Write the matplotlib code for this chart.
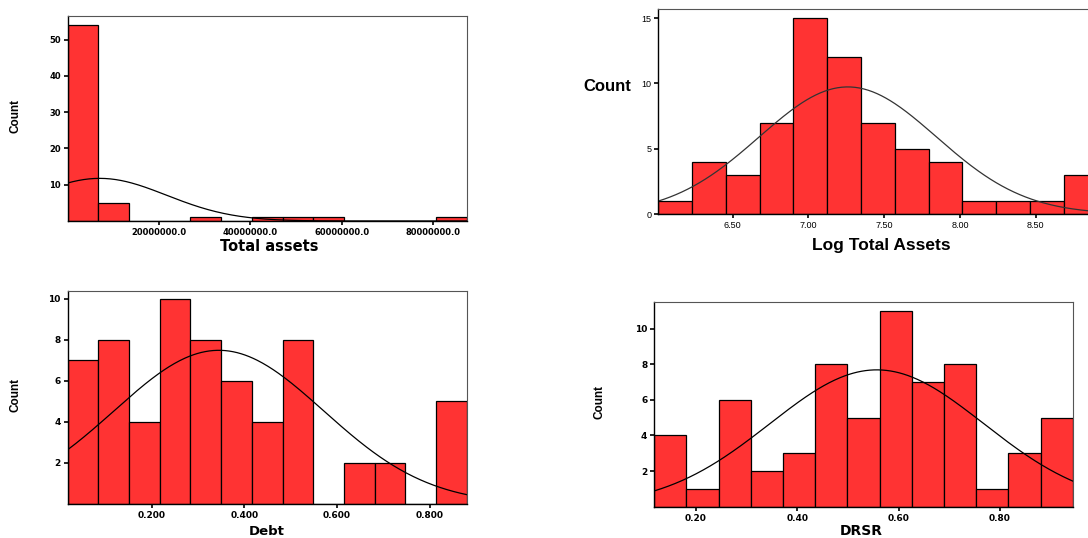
import numpy as np
import matplotlib.pyplot as plt

plt.rcParams["font.family"] = ["Liberation Sans", "DejaVu Sans"]

BAR_COLOR = "#FF3333"

# Total assets (raw)
assets_start = 0.0
assets_width = 6.72e6
assets_counts = [54, 5, 0, 0, 1, 0, 1, 1, 1, 0, 0, 0, 1]
assets_mean = 7.0e6
assets_sd = 14.6e6
assets_ticks = [20e6, 40e6, 60e6, 80e6]
assets_ticklabels = ["20000000.0", "40000000.0", "60000000.0", "80000000.0"]
assets_yticks = [10, 20, 30, 40, 50]

# Log total assets
log_start = 6.009
log_width = 0.2230
log_counts = [1, 4, 3, 7, 15, 12, 7, 5, 4, 1, 1, 1, 3]
log_mean = 7.26
log_sd = 0.585
log_ticks = [6.5, 7.0, 7.5, 8.0, 8.5]
log_ticklabels = ["6.50", "7.00", "7.50", "8.00", "8.50"]
log_yticks = [0, 5, 10, 15]

# Debt
debt_start = 0.019
debt_width = 0.0662
debt_counts = [7, 8, 4, 10, 8, 6, 4, 8, 0, 2, 2, 0, 5]
debt_mean = 0.345
debt_sd = 0.226
debt_ticks = [0.2, 0.4, 0.6, 0.8]
debt_ticklabels = ["0.200", "0.400", "0.600", "0.800"]
debt_yticks = [2, 4, 6, 8, 10]

# DRSR
drsr_start = 0.118
drsr_width = 0.0635
drsr_counts = [4, 1, 6, 2, 3, 8, 5, 11, 7, 8, 1, 3, 5]
drsr_mean = 0.557
drsr_sd = 0.211
drsr_ticks = [0.2, 0.4, 0.6, 0.8]
drsr_ticklabels = ["0.20", "0.40", "0.60", "0.80"]
drsr_yticks = [2, 4, 6, 8, 10]

W, H = 1088, 538
WIDE_FONT = ["DejaVu Sans"]


def px_axes(fig, left, right, top, bottom):
    """Add axes from pixel coordinates (y measured from top)."""
    return fig.add_axes([left / W, 1 - bottom / H, (right - left) / W, (bottom - top) / H])


def wide_ticklabels(ax, size):
    """SPSS-style wide bold tick labels."""
    for label in ax.get_xticklabels() + ax.get_yticklabels():
        label.set_family(WIDE_FONT)
        label.set_fontweight("bold")
        label.set_fontsize(size)


def draw_histogram(ax, start, width, counts, mean, sd, ymax, curve_color="black"):
    counts = np.array(counts)
    edges = start + width * np.arange(len(counts))
    ax.bar(
        edges,
        counts,
        width=width,
        align="edge",
        color=BAR_COLOR,
        edgecolor="black",
        linewidth=0.9,
    )

    end = start + width * len(counts)
    xs = np.linspace(start, end, 300)
    ys = counts.sum() * width / (sd * np.sqrt(2 * np.pi)) * np.exp(-0.5 * ((xs - mean) / sd) ** 2)
    ax.plot(xs, ys, color=curve_color, linewidth=0.9)

    ax.set_xlim(start, end)
    ax.set_ylim(0, ymax)

    for side in ["left", "bottom"]:
        ax.spines[side].set_color("black")
        ax.spines[side].set_linewidth(1.0)
    for side in ["top", "right"]:
        ax.spines[side].set_color("#555555")
        ax.spines[side].set_linewidth(0.8)

    ax.tick_params(length=3, width=1.2, labelsize=5.5, pad=2)


fig = plt.figure(figsize=(W / 100, H / 100), dpi=100)

# Top left
ax1 = px_axes(fig, 67.7, 466.7, 16, 221)
draw_histogram(ax1, assets_start, assets_width, assets_counts, assets_mean, assets_sd, 56.5)
ax1.set_xticks(assets_ticks)
ax1.set_xticklabels(assets_ticklabels)
ax1.set_yticks(assets_yticks)
wide_ticklabels(ax1, 6)
ax1.set_xlabel("Total assets", fontsize=10.5, fontweight="bold", family=WIDE_FONT, va="center")
ax1.xaxis.set_label_coords(0.506, -0.125)
ax1.set_ylabel("Count", fontsize=8.5, fontweight="bold", va="center")
ax1.yaxis.set_label_coords(-0.13, 0.51)

# Top right (runs past the image edge)
ax2 = px_axes(fig, 658.3, 1097.5, 9, 214)
draw_histogram(ax2, log_start, log_width, log_counts, log_mean, log_sd, 15.7, curve_color="#333333")
ax2.set_xticks(log_ticks)
ax2.set_xticklabels(log_ticklabels)
ax2.set_yticks(log_yticks)
ax2.tick_params(labelsize=6.5)
ax2.set_xlabel("Log Total Assets", fontsize=12.5, fontweight="bold", va="center")
ax2.xaxis.set_label_coords(0.507, -0.152)
ax2.set_ylabel("Count", fontsize=12, fontweight="bold", rotation=0, va="center")
ax2.yaxis.set_label_coords(-0.117, 0.62)

# Bottom left
ax3 = px_axes(fig, 67.7, 466.7, 290.7, 504)
draw_histogram(ax3, debt_start, debt_width, debt_counts, debt_mean, debt_sd, 10.38)
ax3.set_xticks(debt_ticks)
ax3.set_xticklabels(debt_ticklabels)
ax3.set_yticks(debt_yticks)
wide_ticklabels(ax3, 6.5)
ax3.set_xlabel("Debt", fontsize=9.5, fontweight="bold", family=WIDE_FONT, va="center")
ax3.xaxis.set_label_coords(0.499, -0.13)
ax3.set_ylabel("Count", fontsize=8.5, fontweight="bold", va="center")
ax3.yaxis.set_label_coords(-0.13, 0.51)

# Bottom right
ax4 = px_axes(fig, 654.3, 1072.7, 302.3, 506.6)
draw_histogram(ax4, drsr_start, drsr_width, drsr_counts, drsr_mean, drsr_sd, 11.48)
ax4.set_xticks(drsr_ticks)
ax4.set_xticklabels(drsr_ticklabels)
ax4.set_yticks(drsr_yticks)
wide_ticklabels(ax4, 6.5)
ax4.set_xlabel("DRSR", fontsize=10, fontweight="bold", family=WIDE_FONT, va="center")
ax4.xaxis.set_label_coords(0.494, -0.12)
ax4.set_ylabel("Count", fontsize=8.5, fontweight="bold", va="center")
ax4.yaxis.set_label_coords(-0.13, 0.513)

fig.savefig("out.png", dpi=100)
plt.close(fig)
